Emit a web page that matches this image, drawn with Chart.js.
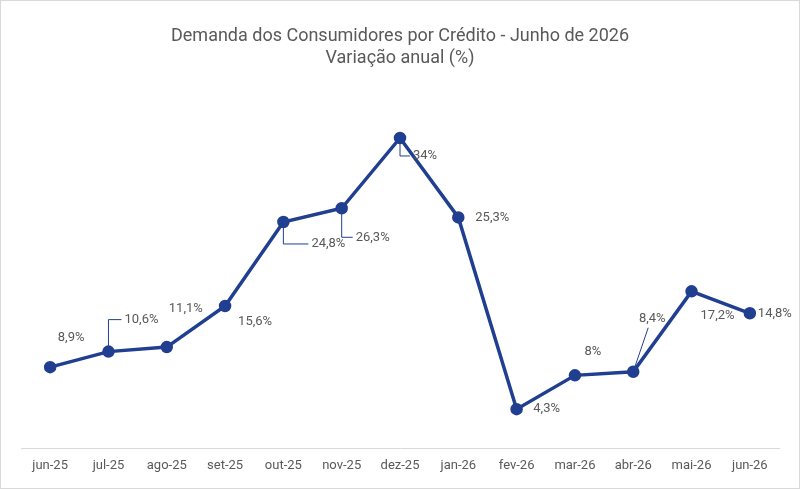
<!DOCTYPE html>
<html>
<head>
<meta charset="utf-8">
<script src="https://cdn.jsdelivr.net/npm/chart.js@4"></script>
<style>
  html, body { margin: 0; padding: 0; background: #fff; }
  #wrap { width: 798px; height: 487px; border: 1px solid #d9d9d9; }
</style>
</head>
<body>
<div id="wrap"><canvas id="c" width="798" height="487"></canvas></div>
<script>
const labels = ["jun-25", "jul-25", "ago-25", "set-25", "out-25", "nov-25", "dez-25", "jan-26", "fev-26", "mar-26", "abr-26", "mai-26", "jun-26"];
const values = [8.9, 10.6, 11.1, 15.6, 24.8, 26.3, 34, 25.3, 4.3, 8, 8.4, 17.2, 14.8];
const valueText = ["8,9%", "10,6%", "11,1%", "15,6%", "24,8%", "26,3%", "34%", "25,3%", "4,3%", "8%", "8,4%", "17,2%", "14,8%"];

// label offsets from the point (dx, dy) and whether a leader line is drawn
const labelOffsets = [[21, -29], [33, -32], [19, -38], [30, 16], [45, 22], [31, 29], [25, 18], [34, 0], [30, 0], [18, -24], [19, -53], [26, 24], [25, 0]];
const leaders = [false, true, false, false, true, true, true, false, false, false, true, false, false];

const labelPlugin = {
  id: "labels",
  afterDatasetsDraw(chart) {
    const ctx = chart.ctx;
    const meta = chart.getDatasetMeta(0);
    ctx.save();
    ctx.font = "13px Roboto, 'Open Sans', sans-serif";
    ctx.fillStyle = "#595959";
    ctx.textAlign = "center";
    ctx.textBaseline = "middle";
    meta.data.forEach((pt, i) => {
      const lx = pt.x + labelOffsets[i][0];
      const ly = pt.y + labelOffsets[i][1];
      const w = ctx.measureText(valueText[i]).width;
      if (leaders[i]) {
        ctx.strokeStyle = "#203f91";
        ctx.lineWidth = 1;
        ctx.beginPath();
        ctx.moveTo(pt.x, pt.y);
        if (i === 10) {
          ctx.lineTo(lx - 4, ly + 9);
        } else {
          ctx.lineTo(pt.x, ly);
          ctx.lineTo(lx - w / 2 - 3, ly);
        }
        ctx.stroke();
      }
      ctx.fillText(valueText[i], lx, ly);
    });
    ctx.restore();
  }
};

new Chart(document.getElementById("c"), {
  type: "line",
  data: {
    labels: labels,
    datasets: [{
      data: values,
      borderColor: "#203f91",
      backgroundColor: "#203f91",
      borderWidth: 3.5,
      pointRadius: 4.5,
      pointHoverRadius: 4.5,
      tension: 0
    }]
  },
  options: {
    responsive: false,
    animation: false,
    layout: { padding: { left: 20, right: 20, top: 0, bottom: 4 } },
    plugins: {
      legend: { display: false },
      tooltip: { enabled: false },
      title: {
        display: true,
        text: ["Demanda dos Consumidores por Crédito - Junho de 2026", "Variação anual (%)"],
        color: "#595959",
        font: { family: "Roboto, 'Open Sans', sans-serif", size: 18, weight: "normal", lineHeight: 1.2 },
        padding: { top: 25, bottom: 14 }
      }
    },
    scales: {
      x: {
        offset: true,
        grid: { display: false, drawTicks: false },
        border: { color: "#d9d9d9" },
        ticks: { color: "#595959", font: { family: "Roboto, sans-serif", size: 13 }, padding: 10 }
      },
      y: {
        min: 0,
        max: 40,
        display: false
      }
    }
  },
  plugins: [labelPlugin]
});
</script>
</body>
</html>
